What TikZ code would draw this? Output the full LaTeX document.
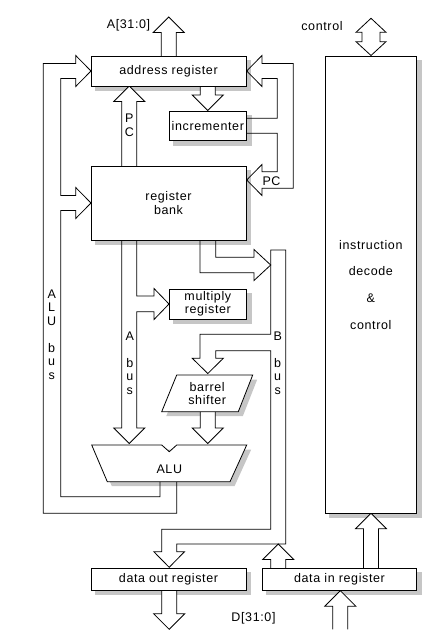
\documentclass[tikz,border=0pt]{standalone}
\usepackage{fontspec}
\newfontfamily\diagfont{Liberation Sans}[LetterSpace=5]
\pgfdeclarelayer{back}
\pgfsetlayers{back,main}

\tikzset{
  bus/.style={draw, line width=0.8pt, line join=miter},
  regbox/.style={draw, fill=white, line width=0.8pt, inner sep=0pt, align=center},
  boxshade/.style={fill=gray!45},
  busname/.style={align=center, inner sep=0pt},
}

% straight hollow bus arrow: x, tail y, tip y
\newcommand{\vbus}[3]{%
  \pgfmathsetmacro{\busbase}{#3+15.5*sign(#2-#3)}%
  \draw[bus, fill=white] (#1-7.5,#2) -- (#1-7.5,\busbase) -- (#1-15.5,\busbase)
    -- (#1,#3) -- (#1+15.5,\busbase) -- (#1+7.5,\busbase) -- (#1+7.5,#2);}

\begin{document}
\begin{tikzpicture}[x=1pt, y=-1pt, every node/.style={font=\diagfont\fontsize{12.5}{13.5}\selectfont}]
    \useasboundingbox (0,0) rectangle (439,642);

    % straight buses
    \vbus{168.7}{56}{17}
    \vbus{207.8}{86}{110.5}
    \vbus{129.3}{166}{86}
    \vbus{207.8}{411.7}{443.5}
    \vbus{169.2}{590}{629.3}
    \vbus{340.3}{629.3}{590.7}
    \vbus{371}{568.3}{513.3}
    \vbus{278.2}{568.3}{544}

    % control bus
    \draw[bus, fill=white] (371,18.3) -- (386,32.3) -- (380,32.3) -- (380,41.7) -- (386,41.7)
        -- (371,55.5) -- (356,41.7) -- (362,41.7) -- (362,32.3) -- (356,32.3) -- cycle;

    % ALU bus
    \draw[bus] (176.7,481.7) -- (176.7,513.3) -- (43.3,513.3) -- (43.3,63.5) -- (75.7,63.5)
        -- (75.7,55.5) -- (91,71) -- (75.7,86.5) -- (75.7,78.5) -- (60.7,78.5) -- (60.7,195.5)
        -- (75.7,195.5) -- (75.7,187.5) -- (91,203) -- (75.7,218.5) -- (75.7,210.5) -- (60.7,210.5)
        -- (60.7,496.7) -- (160,496.7) -- (160,481.7);

    % incrementer back to address register and PC
    \draw[bus] (246.7,118.3) -- (277.3,118.3) -- (277.3,78.5) -- (262,78.5) -- (262,86.5)
        -- (246.7,71) -- (262,55.5) -- (262,63.5) -- (293.3,63.5) -- (293.3,188.3) -- (262,188.3)
        -- (262,195.5) -- (246.7,180) -- (262,164.5) -- (262,171.7) -- (277.3,171.7)
        -- (277.3,133.3) -- (246.7,133.3);

    % A bus
    \draw[bus] (121.7,240) -- (121.7,428) -- (113.8,428) -- (129.3,443.5) -- (144.8,428)
        -- (136.7,428) -- (136.7,311.7) -- (154,311.7) -- (154,319.5) -- (169,304) -- (154,288.5)
        -- (154,296) -- (136.7,296) -- (136.7,240);

    % register bank to B bus
    \draw[bus] (200,240) -- (200,272.7) -- (254,272.7) -- (254,280.5) -- (270.7,265)
        -- (254,249.5) -- (254,257.3) -- (215.7,257.3) -- (215.7,240);

    % B bus
    \draw[bus] (270.7,250) -- (285.7,250) -- (285.7,544) -- (176.7,544) -- (176.7,551.7)
        -- (184.5,551.7) -- (169.2,567.3) -- (153.8,551.7) -- (161.7,551.7) -- (161.7,529.3)
        -- (270.7,529.3) -- (270.7,350.7) -- (215.7,350.7) -- (215.7,358.3) -- (223.3,358.3)
        -- (207.8,373.5) -- (192.3,358.3) -- (200,358.3) -- (200,334.3) -- (270.7,334.3) -- cycle;

    % registers
    \node[regbox, minimum width=155, minimum height=30] (addr) at (168.5,71) {address register};
    \node[regbox, minimum width=77.7, minimum height=29.7] (incr) at (207.85,125.85) {incrementer};
    \node[regbox, minimum width=155, minimum height=74] (bank) at (168.5,203) {register\\bank};
    \node[regbox, minimum width=77.7, minimum height=30] (mult) at (207.85,304) {multiply\\register};
    \node[regbox, minimum width=91.7, minimum height=457.3] (decode) at (370.85,284.65)
        {instruction\\[13.2pt]decode\\[13.2pt]\&\\[13.2pt]control};
    \node[regbox, minimum width=155, minimum height=21.7] (dout) at (168.5,579.15) {data out register};
    \node[regbox, minimum width=154.4, minimum height=21.7] (din) at (339.5,579.15) {data in register};

    % barrel shifter and ALU
    \draw[bus, fill=white] (176.7,375) -- (252.7,375) -- (238.3,411.7) -- (161.7,411.7) -- cycle;
    \node[busname] (shifter) at (207.2,393.3) {barrel\\shifter};
    \draw[bus, fill=white] (91.7,445) -- (161.7,445) -- (169.3,451.7) -- (176.7,445) -- (246.7,445)
        -- (230,481.7) -- (107.3,481.7) -- cycle;
    \node (alu) at (169.3,469.3) {ALU};

    % labels
    \node (abus) at (128.5,25.5) {A[31:0]};
    \node (ctrl) at (322,26.5) {control};
    \node (dbus) at (253.5,618.5) {D[31:0]};
    \node (pcin) at (271.5,181.5) {PC};
    \node[busname] (pcup) at (129.3,125.5) {P\\C};
    \node[busname] (alubus) at (51.7,334.5) {A\\L\\U\\[13.5pt]b\\u\\s};
    \node[busname] (abusname) at (129.8,363) {A\\[13.5pt]b\\u\\s};
    \node[busname] (bbusname) at (277.7,363) {B\\[13.5pt]b\\u\\s};

    % shadows
    \begin{pgfonlayer}{back}
        \foreach \n in {addr,incr,bank,mult,decode,dout,din} {
            \fill[boxshade] ([shift={(4.5,4.5)}]\n.north west) rectangle ([shift={(4.5,4.5)}]\n.south east);
        }
        \fill[boxshade, shift={(4.5,4.5)}] (176.7,375) -- (252.7,375) -- (238.3,411.7) -- (161.7,411.7) -- cycle;
        \fill[boxshade, shift={(4.5,4.5)}] (91.7,445) -- (246.7,445) -- (230,481.7) -- (107.3,481.7) -- cycle;
    \end{pgfonlayer}
\end{tikzpicture}
\end{document}
